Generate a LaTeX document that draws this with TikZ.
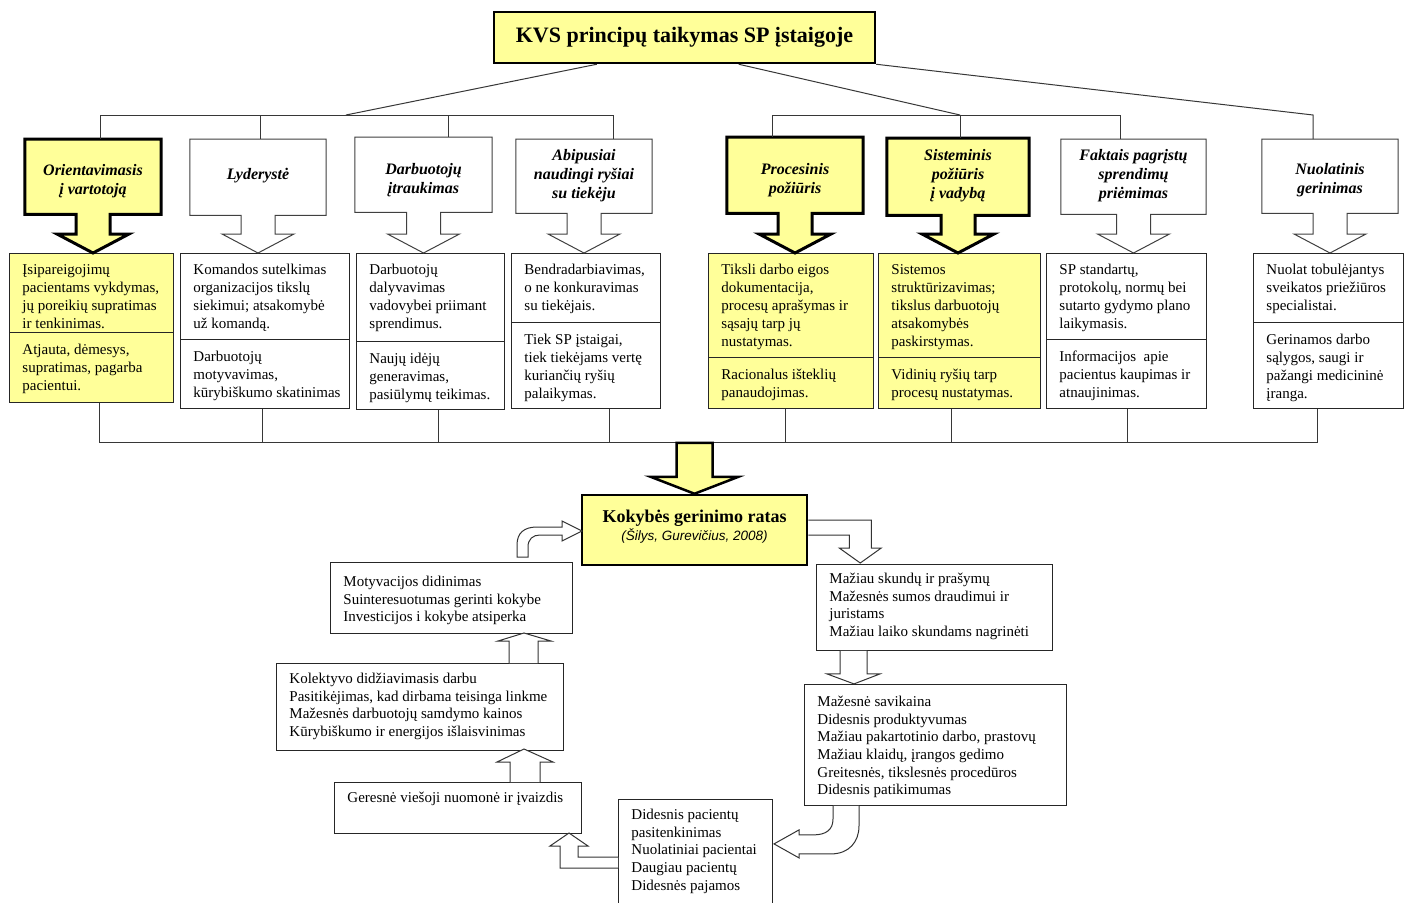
\documentclass[tikz,border=0pt]{standalone}
\usepackage{fontspec}
\setmainfont{Liberation Serif}
\newfontfamily\citefont{Liberation Sans}
\usetikzlibrary{calc}
\definecolor{kvsyellow}{RGB}{255,255,153}
\definecolor{linegray}{RGB}{55,55,55}

\newcommand\bodyfont{\fontsize{15}{18}\selectfont}
\newcommand\listfont{\fontsize{15}{17.7}\selectfont}
\newcommand\headfont{\fontsize{16}{19}\selectfont\bfseries\itshape}

% text cell: [first baseline]{style}{name}{x}{y}{w}{h}{lines}
\newcommand\cellbox[8][21]{%
  \node[#2] (#3) at (#4,#5)
    {\parbox[c][#7pt][t]{#6pt}{\raggedright\leftskip=13pt\rightskip=-40pt plus 1fil\rule{0pt}{#1pt}#8}};}

% principle box with its down arrow: {style}{name}{cx}{top}{w}{h}{target cell}
\newcommand\headbox[7]{%
  \node[headrect, minimum width=#5pt, minimum height=#6pt, anchor=north] (#2) at (#3,#4) {};
  \draw[#1] (#2.north west) -- (#2.north east) -- (#2.south east)
    -- ($(#2.south)+(17,0)$) -- ($(#2.south |- #7.north)+(17,-19)$)
    -- ($(#2.south |- #7.north)+(36,-19)$) -- (#2.south |- #7.north)
    -- ($(#2.south |- #7.north)+(-36,-19)$) -- ($(#2.south |- #7.north)+(-17,-19)$)
    -- ($(#2.south)+(-17,0)$) -- (#2.south west) -- cycle;}
% caption of a principle box: {name}{vertical shift}{text}
\newcommand\headlabel[3]{%
  \node[headtext, yshift=#2pt] (#1-t) at (#1.center) {#3};}

\begin{document}
\begin{tikzpicture}[x=1pt,y=-1pt,
  conn/.style={draw=linegray, line width=1pt},
  cellw/.style={draw=black!85, line width=0.9pt, fill=white, inner sep=0pt, anchor=north west, font=\bodyfont},
  celly/.style={cellw, fill=kvsyellow},
  listbox/.style={cellw, font=\listfont},
  headrect/.style={inner sep=0pt, draw=none},
  headw/.style={draw=black!75, line width=1pt, fill=white, line join=miter},
  heady/.style={draw=black, line width=3pt, fill=kvsyellow, line join=miter},
  headtext/.style={font=\headfont, align=center, inner sep=0pt},
  titlebox/.style={draw=black, line width=2.5pt, fill=kvsyellow, inner sep=0pt,
    minimum width=381pt, minimum height=51pt, font=\fontsize{22}{26}\selectfont\bfseries},
  kbox/.style={draw=black, line width=2.5pt, fill=kvsyellow, inner sep=0pt,
    minimum width=225pt, minimum height=70pt},
  flowarrow/.style={draw=black!80, line width=1pt, fill=white, line join=miter},
  bigarrow/.style={draw=black, line width=2.5pt, fill=kvsyellow, line join=miter},
]
\useasboundingbox (0,0) rectangle (1410,902);
\fill[white] (0,0) rectangle (1410,902);

% ---------- title ----------
\node[titlebox] (title) at (684.5,37.5) {KVS principų taikymas SP įstaigoje};

% ---------- description cells ----------
\cellbox{celly}{t1a}{9}{253}{164}{79}{Įsipareigojimų\\pacientams vykdymas,\\jų poreikių supratimas\\ir tenkinimas.}
\cellbox[22]{celly}{t1b}{9}{332}{164}{70}{Atjauta, dėmesys,\\supratimas, pagarba\\pacientui.}
\cellbox{cellw}{t2a}{180}{253}{169}{86}{Komandos sutelkimas\\organizacijos tikslų\\siekimui; atsakomybė\\už komandą.}
\cellbox[22]{cellw}{t2b}{180}{339}{169}{69}{Darbuotojų\\motyvavimas,\\kūrybiškumo skatinimas}
\cellbox{cellw}{t3a}{356}{253}{148}{88}{Darbuotojų\\dalyvavimas\\vadovybei priimant\\sprendimus.}
\cellbox[22]{cellw}{t3b}{356}{341}{148}{68}{Naujų idėjų\\generavimas,\\pasiūlymų teikimas.}
\cellbox{cellw}{t4a}{511}{253}{149}{69}{Bendradarbiavimas,\\o ne konkuravimas\\su tiekėjais.}
\cellbox[22]{cellw}{t4b}{511}{322}{149}{86}{Tiek SP įstaigai,\\tiek tiekėjams vertę\\kuriančių ryšių\\palaikymas.}
\cellbox{celly}{t5a}{708}{253}{165}{104}{Tiksli darbo eigos\\dokumentacija,\\procesų aprašymas ir\\sąsajų tarp jų\\nustatymas.}
\cellbox[22]{celly}{t5b}{708}{357}{165}{51}{Racionalus išteklių\\panaudojimas.}
\cellbox{celly}{t6a}{878}{253}{162}{104}{Sistemos\\struktūrizavimas;\\tikslus darbuotojų\\atsakomybės\\paskirstymas.}
\cellbox[22]{celly}{t6b}{878}{357}{162}{51}{Vidinių ryšių tarp\\procesų nustatymas.}
\cellbox{cellw}{t7a}{1046}{253}{160}{86}{SP standartų,\\protokolų, normų bei\\sutarto gydymo plano\\laikymasis.}
\cellbox[22]{cellw}{t7b}{1046}{339}{160}{69}{Informacijos~ apie\\pacientus kaupimas ir\\atnaujinimas.}
\cellbox{cellw}{t8a}{1253}{253}{150}{69}{Nuolat tobulėjantys\\sveikatos priežiūros\\specialistai.}
\cellbox[22]{cellw}{t8b}{1253}{322}{150}{86}{Gerinamos darbo\\sąlygos, saugi ir\\pažangi medicininė\\įranga.}

% ---------- principle boxes ----------
\headbox{heady}{h1}{93}{139}{136}{75}{t1a}
\headbox{headw}{h2}{258}{139}{136}{76}{t2a}
\headbox{headw}{h3}{423.5}{137}{137}{75}{t3a}
\headbox{headw}{h4}{584}{139}{136}{74}{t4a}
\headbox{heady}{h5}{795}{137}{136}{76}{t5a}
\headbox{heady}{h6}{958}{138}{142}{77}{t6a}
\headbox{headw}{h7}{1133.5}{139}{145}{75}{t7a}
\headbox{headw}{h8}{1330}{139}{136}{74}{t8a}
\headlabel{h1}{-4}{Orientavimasis\\į vartotoją}
\headlabel{h2}{2}{Lyderystė}
\headlabel{h3}{-5}{Darbuotojų\\įtraukimas}
\headlabel{h4}{1}{Abipusiai\\naudingi ryšiai\\su tiekėju}
\headlabel{h5}{-5}{Procesinis\\požiūris}
\headlabel{h6}{1}{Sisteminis\\požiūris\\į vadybą}
\headlabel{h7}{1}{Faktais pagrįstų\\sprendimų\\priėmimas}
\headlabel{h8}{-4}{Nuolatinis\\gerinimas}

% ---------- tree from the title ----------
\coordinate (u1) at (100,115);  \coordinate (u2) at (260,115);
\coordinate (u3) at (448,115);  \coordinate (u4) at (613,115);
\coordinate (u5) at (772,115);  \coordinate (u6) at (960,115);
\coordinate (u7) at (1120,115); \coordinate (u8) at (1313,115);
\coordinate (jl) at (346,115);
\draw[conn] ($(title.south west)+(104,0)$) -- (jl);
\draw[conn] ($(title.south west)+(246,0)$) -- (u6);
\draw[conn] (title.south east) -- (u8) -- (u8 |- h8.north);
\draw[conn] (u1 |- h1.north) -- (u1) -- (u4) -- (u4 |- h4.north);
\draw[conn] (u2) -- (u2 |- h2.north);
\draw[conn] (u3) -- (u3 |- h3.north);
\draw[conn] (u5 |- h5.north) -- (u5) -- (u7) -- (u7 |- h7.north);
\draw[conn] (u6) -- (u6 |- h6.north);

% ---------- collecting bus ----------
\coordinate (d1) at (99,442);   \coordinate (d2) at (262,442);
\coordinate (d3) at (438,442);  \coordinate (d4) at (609,442);
\coordinate (d5) at (785,442);  \coordinate (d6) at (951,442);
\coordinate (d7) at (1127,442); \coordinate (d8) at (1317,442);
\draw[conn] (d1 |- t1b.south) -- (d1) -- (d8) -- (d8 |- t8b.south);
\foreach \i in {2,...,7} \draw[conn] (d\i |- t\i b.south) -- (d\i);

% ---------- quality circle ----------
\node[kbox] (k) at (694.5,530) {};
\node[inner sep=0pt, align=center, yshift=3.5pt, font=\fontsize{18}{19}\selectfont] (k-t) at (k.center)
  {\bfseries Kokybės gerinimo ratas\\[-1pt]
   {\citefont\itshape\fontsize{13.5}{18}\selectfont (Šilys, Gurevičius, 2008)}};
\draw[bigarrow] ($(k.north)+(-18,-51)$) -- ($(k.north)+(18,-51)$) -- ($(k.north)+(18,-17)$)
  -- ($(k.north)+(44,-17)$) -- (k.north) -- ($(k.north)+(-44,-17)$) -- ($(k.north)+(-18,-17)$) -- cycle;

% ---------- effect boxes ----------
\cellbox[19]{listbox}{r1}{816}{564}{236}{86}{Mažiau skundų ir prašymų\\Mažesnės sumos draudimui ir\\juristams\\Mažiau laiko skundams nagrinėti}
\cellbox[22]{listbox}{r2}{804}{684}{262}{121}{Mažesnė savikaina\\Didesnis produktyvumas\\Mažiau pakartotinio darbo, prastovų\\Mažiau klaidų, įrangos gedimo\\Greitesnės, tikslesnės procedūros\\Didesnis patikimumas}
\cellbox[20]{listbox}{r3}{618}{799}{154}{110}{Didesnis pacientų\\pasitenkinimas\\Nuolatiniai pacientai\\Daugiau pacientų\\Didesnės pajamos}
\cellbox[20]{listbox}{l1}{334}{782}{247}{51}{Geresnė viešoji nuomonė ir įvaizdis}
\cellbox[20]{listbox}{l2}{276}{663}{287}{87}{Kolektyvo didžiavimasis darbu\\Pasitikėjimas, kad dirbama teisinga linkme\\Mažesnės darbuotojų samdymo kainos\\Kūrybiškumo ir energijos išlaisvinimas}
\cellbox[24]{listbox}{l3}{330}{562}{242}{71}{Motyvacijos didinimas\\Suinteresuotumas gerinti kokybe\\Investicijos i kokybe atsiperka}

% ---------- arrows of the circle ----------
% quality circle -> fewer complaints (elbow)
\draw[flowarrow] ($(k.east)+(0,-10)$) -- ($(k.east)+(63,-10)$) -- ($(k.east |- r1.north)+(63,-16)$)
  -- ($(k.east |- r1.north)+(73,-16)$) -- ($(k.east |- r1.north)+(52,-1)$)
  -- ($(k.east |- r1.north)+(31,-16)$) -- ($(k.east |- r1.north)+(41,-16)$)
  -- ($(k.east)+(41,5)$) -- ($(k.east)+(0,5)$);
% fewer complaints -> lower costs
\begin{scope}[shift={(r1.south west)}]
  \draw[flowarrow] (24,0) -- (24,23) -- (11,23) -- (38,33) -- (64,23) -- (51,23) -- (51,0);
\end{scope}
% lower costs -> satisfied patients (curved)
\begin{scope}[shift={(r2.south west)}]
  \draw[flowarrow] (29,0) -- (29,13) .. controls (29,24) and (22,29) .. (9,29) -- (-5,29) -- (-5,24)
    -- (-30,38) -- (-5,52) -- (-5,48) -- (27,48) .. controls (45,48) and (55,36) .. (55,20) -- (55,0);
\end{scope}
% satisfied patients -> public image (elbow)
\begin{scope}[shift={(r3.north west)}]
  \draw[flowarrow] (0,58) -- (-40,58) -- (-40,47) -- (-30,47) -- (-49,34) -- (-68,47)
    -- (-58,47) -- (-58,69) -- (0,69);
\end{scope}
% public image -> staff pride
\begin{scope}[shift={(l1.north west)}]
  \draw[flowarrow] (176,0) -- (176,-20) -- (163,-20) -- (190,-33) -- (219,-20) -- (206,-20) -- (206,0);
\end{scope}
% staff pride -> motivation
\begin{scope}[shift={(l2.north west)}]
  \draw[flowarrow] (233,0) -- (233,-22) -- (222,-22) -- (248,-30) -- (275,-22) -- (262,-22) -- (262,0);
\end{scope}
% motivation -> quality circle (curved)
\begin{scope}[shift={(l3.north west)}]
  \draw[flowarrow] (187,-5) -- (187,-17) .. controls (187,-29) and (194,-35) .. (207,-35) -- (232,-35)
    -- (232,-41) -- (252,-31) -- (232,-21) -- (232,-27) -- (210,-27)
    .. controls (203,-27) and (198,-23) .. (198,-15) -- (198,-5) -- cycle;
\end{scope}
\end{tikzpicture}
\end{document}
